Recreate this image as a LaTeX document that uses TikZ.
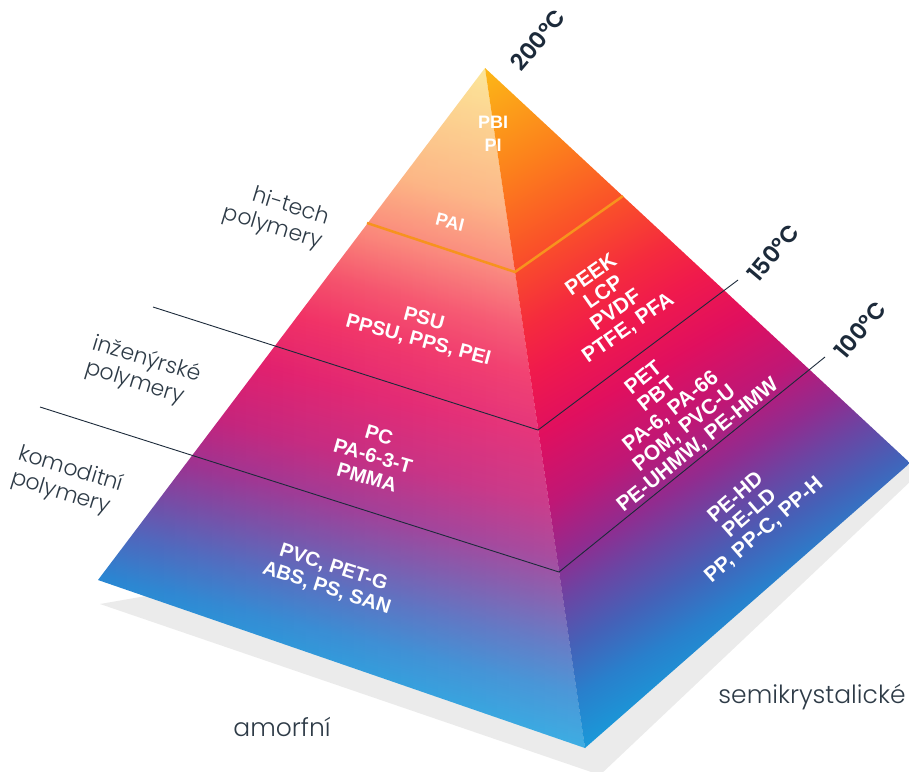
\documentclass[tikz,border=0pt]{standalone}
\usepackage{fontspec}
\usetikzlibrary{fadings}
\newfontfamily\facefont{Liberation Sans}[BoldFont={* Bold}]
\newfontfamily\tempfont{Poppins SemiBold}
\newfontfamily\lightfont{Poppins Light}
\definecolor{navy}{HTML}{1C2A3A}
\definecolor{slate}{HTML}{2E3B47}
\definecolor{shadowgrey}{HTML}{EBEBEB}
\definecolor{hotorange}{HTML}{F7931E}
\pgfdeclareverticalshading{leftface}{100bp}{rgb(0bp)=(0.10,0.62,0.87); rgb(25bp)=(0.10,0.62,0.87);
  rgb(29bp)=(0.17,0.52,0.82); rgb(32.5bp)=(0.30,0.40,0.74); rgb(36bp)=(0.46,0.28,0.64);
  rgb(39bp)=(0.60,0.18,0.56); rgb(43bp)=(0.76,0.11,0.47); rgb(48bp)=(0.88,0.08,0.40);
  rgb(52.5bp)=(0.94,0.14,0.36); rgb(56bp)=(0.96,0.27,0.38); rgb(60bp)=(0.98,0.48,0.43);
  rgb(65bp)=(0.99,0.68,0.47); rgb(75bp)=(0.99,0.89,0.54); rgb(100bp)=(0.99,0.89,0.54)}
\pgfdeclareverticalshading{rightface}{100bp}{rgb(0bp)=(0.10,0.60,0.85); rgb(25bp)=(0.10,0.60,0.85);
  rgb(29bp)=(0.16,0.50,0.80); rgb(32.5bp)=(0.27,0.38,0.72); rgb(36bp)=(0.42,0.27,0.64);
  rgb(39bp)=(0.57,0.17,0.56); rgb(43bp)=(0.75,0.09,0.46); rgb(48bp)=(0.88,0.06,0.37);
  rgb(52.5bp)=(0.94,0.10,0.30); rgb(56bp)=(0.96,0.17,0.24); rgb(61bp)=(0.98,0.32,0.16);
  rgb(67bp)=(0.99,0.50,0.11); rgb(75bp)=(0.99,0.72,0.09); rgb(100bp)=(0.99,0.72,0.09)}
\newcommand{\level}[3]{\draw[levelline] (#1) -- (#2) -- (#3);}

\begin{document}
\begin{tikzpicture}[x=1pt, y=-1pt,
  facetext/.style={text=white, font=\facefont\bfseries\fontsize{20}{22}\selectfont, align=center, inner sep=0pt},
  righttext/.style={facetext, font=\facefont\bfseries\fontsize{21}{21.5}\selectfont},
  toptext/.style={facetext, font=\facefont\bfseries\fontsize{18}{23}\selectfont},
  templabel/.style={text=navy, font=\tempfont\fontsize{23}{25}\selectfont, rotate=50, inner sep=0pt},
  grouplabel/.style={text=slate, font=\lightfont\fontsize{22}{25}\selectfont, rotate=-17, inner sep=0pt},
  baselabel/.style={text=slate, font=\lightfont\fontsize{25}{28}\selectfont, inner sep=0pt},
  levelline/.style={draw=navy, line width=0.9pt},
]
\useasboundingbox (0,0) rectangle (909,771);
\clip (0,0) rectangle (909,771);
\coordinate (apex) at (485,68);
\coordinate (left) at (98,580);
\coordinate (front) at (585,748);
\coordinate (right) at (910,463);
\fill[shadowgrey] (100,604) -- (600,775) -- (914,478) -- (910,463) -- cycle;
\begin{scope}
\clip (apex) -- (left) -- (front) -- cycle;
\shade[shading=leftface, transform canvas={rotate around={-14:(front)}}] (45,112) rectangle (605,748);
\end{scope}
\fill[white, opacity=0.16, path fading=west] (apex) -- (left) -- (front) -- cycle;
\begin{scope}
\clip (apex) -- (front) -- (right) -- cycle;
\shade[shading=rightface, transform canvas={rotate around={30:(front)}}] (565,109) rectangle (1035,748);
\end{scope}
\coordinate (o0) at (367,223);
\coordinate (o1) at (515,272);
\coordinate (o2) at (623,196);
\draw[hotorange, line width=2.5pt] (o0) -- (o1) -- (o2);
\coordinate (u0) at (153,307);
\coordinate (u1) at (538,430);
\coordinate (u2) at (738,280);
\level{u0}{u1}{u2}
\coordinate (w0) at (40,407);
\coordinate (w1) at (559,572);
\coordinate (w2) at (825,357);
\level{w0}{w1}{w2}
\node[toptext] (pbi) at (493,134) {PBI\\PI};
\node[toptext, rotate=-14] (pai) at (450,222) {PAI};
\node[facetext, rotate=-15] (psu) at (421,330) {PSU\\PPSU, PPS, PEI};
\node[facetext, rotate=-16] (pc) at (373,456) {PC\\PA-6-3-T\\PMMA};
\node[facetext, rotate=-18] (pvc) at (330,578) {PVC, PET-G\\ABS, PS, SAN};
\node[righttext, rotate=35] (peek) at (610,302) {PEEK\\LCP\\PVDF\\PTFE, PFA};
\node[righttext, rotate=39] (pet) at (671,412) {PET\\PBT\\PA-6, PA-66\\POM, PVC-U\\PE-UHMW, PE-HMW};
\node[righttext, rotate=41] (pehd) at (750,514) {PE-HD\\PE-LD\\PP, PP-C, PP-H};
\node[templabel] (t200) at (538,40) {200°C};
\node[templabel] (t150) at (773,253) {150°C};
\node[templabel] (t100) at (860,330) {100°C};
\node[grouplabel, align=right] (hitech) at (276,216) {hi-tech\\polymery};
\node[grouplabel, align=left] (inzen) at (143,372) {inženýrské\\polymery};
\node[grouplabel, align=left] (komod) at (67,482) {komoditní\\polymery};
\node[baselabel] (amorf) at (282,727) {amorfní};
\node[baselabel] (semi) at (812,697) {semikrystalické};
\end{tikzpicture}
\end{document}
